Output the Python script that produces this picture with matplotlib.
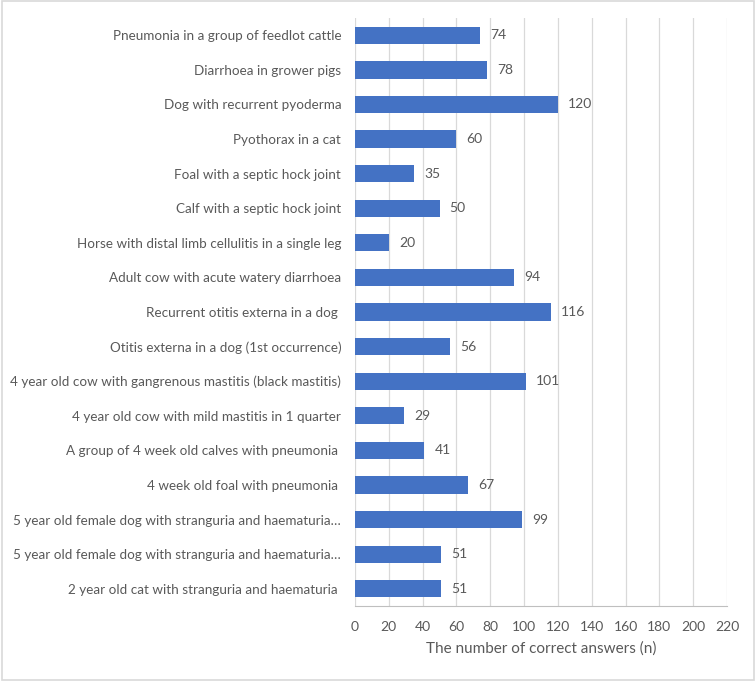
import numpy as np
import matplotlib
matplotlib.use('Agg')
import matplotlib.pyplot as plt
from matplotlib.patches import Rectangle

# data, top to bottom as shown
cases = ['Pneumonia in a group of feedlot cattle',
         'Diarrhoea in grower pigs',
         'Dog with recurrent pyoderma',
         'Pyothorax in a cat',
         'Foal with a septic hock joint',
         'Calf with a septic hock joint',
         'Horse with distal limb cellulitis in a single leg',
         'Adult cow with acute watery diarrhoea',
         'Recurrent otitis externa in a dog ',
         'Otitis externa in a dog (1st occurrence)',
         '4 year old cow with gangrenous mastitis (black mastitis)',
         '4 year old cow with mild mastitis in 1 quarter',
         'A group of 4 week old calves with pneumonia ',
         '4 week old foal with pneumonia ',
         '5 year old female dog with stranguria and haematuria\u2026',
         '5 year old female dog with stranguria and haematuria\u2026',
         '2 year old cat with stranguria and haematuria ']
correct = [74, 78, 120, 60, 35, 50, 20, 94, 116, 56, 101, 29, 41, 67, 99, 51, 51]
xticks = list(range(0, 221, 20))

plt.rcParams['font.family'] = ['Lato', 'DejaVu Sans']
txt = '#595959'

fig = plt.figure(figsize=(7.56, 6.81), dpi=100)
ax = fig.add_axes([0.4696, 0.110, 0.492, 0.8636])

y = np.arange(len(cases))
ax.barh(y, correct, height=0.5, color='#4472C4', zorder=3)
for yi, v in zip(y, correct):
    ax.text(v + 6, yi, str(v), va='center', ha='left', fontsize=10, color=txt)

ax.set_ylim(len(cases) - 0.5, -0.5)
ax.set_xlim(0, 220)
ax.set_xticks(xticks)
ax.set_yticks(y)
ax.set_yticklabels(cases, fontsize=9.7)
ax.tick_params(axis='both', length=0, labelsize=10, colors=txt)
ax.tick_params(axis='y', labelsize=9.7, pad=10)
ax.tick_params(axis='x', pad=11)
ax.grid(axis='x', color='#D9D9D9', linewidth=0.9, zorder=0)
for s in ['top', 'right', 'left']:
    ax.spines[s].set_visible(False)
ax.spines['bottom'].set_color('#BFBFBF')
ax.set_xlabel('The number of correct answers (n)', fontsize=11, color=txt, labelpad=6)

# chart border
fig.patches.append(Rectangle((0.002, 0.002), 0.996, 0.996, transform=fig.transFigure,
                             fill=False, edgecolor='#D9D9D9', linewidth=1.2))

fig.savefig('out.png', dpi=100)
